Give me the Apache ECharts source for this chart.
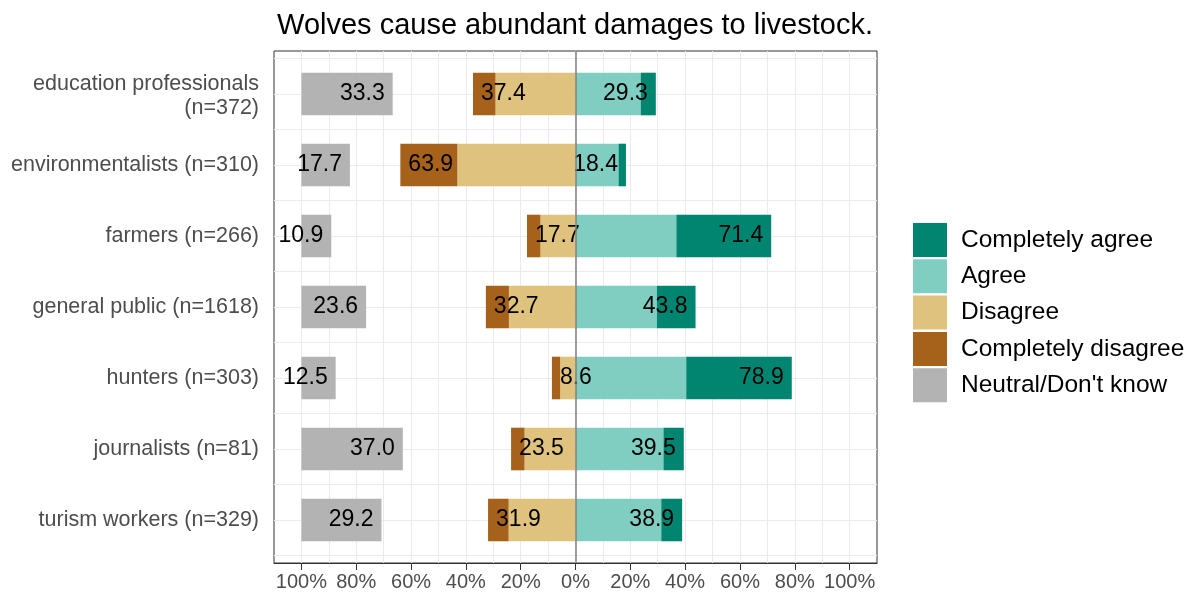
<!DOCTYPE html>
<html>
<head>
<meta charset="utf-8">
<script src="https://cdn.jsdelivr.net/npm/echarts@6/dist/echarts.min.js"></script>
<style>
html,body{margin:0;padding:0;background:#fff;}
#chart{width:1199px;height:595px;}
</style>
</head>
<body>
<div id="chart"></div>
<script>
const titleText = 'Wolves cause abundant damages to livestock.';
const categories = [
  'education professionals\n(n=372)',
  'environmentalists (n=310)',
  'farmers (n=266)',
  'general public (n=1618)',
  'hunters (n=303)',
  'journalists (n=81)',
  'turism workers (n=329)'
];
const completelyAgree    = [5.5, 2.7, 34.6, 14.1, 38.5, 7.4, 7.6];
const agree              = [23.8, 15.7, 36.8, 29.7, 40.4, 32.1, 31.3];
const disagree           = [29.2, 43.1, 12.8, 24.3, 5.6, 18.6, 24.4];
const completelyDisagree = [8.2, 20.8, 4.9, 8.4, 3.0, 4.9, 7.5];
const neutral            = [33.3, 17.7, 10.9, 23.6, 12.5, 37.0, 29.2];
const xTickValues = [-100, -80, -60, -40, -20, 0, 20, 40, 60, 80, 100];
const legendNames = ['Completely agree', 'Agree', 'Disagree', 'Completely disagree', "Neutral/Don't know"];

const FONT = "'Liberation Sans', Arial, sans-serif";
const colors = {
  'Completely agree': '#018571',
  'Agree': '#80CDC1',
  'Disagree': '#DFC27D',
  'Completely disagree': '#A6611A',
  "Neutral/Don't know": '#B3B3B3'
};

const chart = echarts.init(document.getElementById('chart'), null, {renderer: 'canvas'});

const barLabel = (pos, fmt) => ({
  show: true, position: pos, distance: 8, color: '#000', fontSize: 23, fontFamily: FONT, formatter: fmt
});

const common = {
  type: 'bar', xAxisIndex: 1, yAxisIndex: 1, barWidth: '60%', barGap: '-100%', stack: 'likert',
  emphasis: {disabled: true}, silent: true
};

const yLabelStyle = {fontSize: 21.5, color: '#4D4D4D', fontFamily: FONT, align: 'right', lineHeight: 28};

const option = {
  animation: false,
  backgroundColor: '#fff',
  textStyle: {fontFamily: FONT},
  title: {
    text: titleText, left: 570, top: 6, textAlign: 'center',
    textStyle: {fontSize: 29, fontWeight: 'normal', color: '#000', fontFamily: FONT}
  },
  legend: {
    data: legendNames, orient: 'vertical', left: 913, top: 223, padding: 0,
    itemWidth: 34, itemHeight: 34, itemGap: 2.3, icon: 'rect',
    textStyle: {fontSize: 24.5, color: '#000', fontFamily: FONT, padding: [0, 0, 0, 9]},
    selectedMode: false
  },
  grid: [
    {left: 274, right: 322, top: 51, bottom: 32, show: true, borderColor: '#333333', borderWidth: 1, backgroundColor: 'transparent'},
    {left: 274, right: 322, top: 58.5, bottom: 39.5}
  ],
  xAxis: [
    {
      type: 'value', gridIndex: 0, min: -110, max: 110, position: 'bottom',
      axisLine: {show: true, onZero: false, lineStyle: {color: '#333333', width: 1}},
      axisTick: {show: true, length: 7, customValues: xTickValues, lineStyle: {color: '#333333', width: 1}},
      axisLabel: {show: true, customValues: xTickValues, margin: 9, fontSize: 20, color: '#4D4D4D', fontFamily: FONT,
        formatter: v => Math.abs(v) + '%'},
      splitLine: {show: false}
    },
    {type: 'value', gridIndex: 1, min: -110, max: 110, show: false},
    {type: 'value', gridIndex: 1, min: -10, max: 210, show: false},
    {
      type: 'value', gridIndex: 0, min: -110, max: 110, interval: 10, position: 'top',
      axisLine: {show: false}, axisTick: {show: false}, axisLabel: {show: false},
      splitLine: {show: true, showMinLine: false, showMaxLine: false, lineStyle: {color: '#EBEBEB', width: 1}}
    }
  ],
  yAxis: [
    {type: 'value', gridIndex: 0, min: 0.4, max: 7.6, inverse: true, show: false},
    {
      type: 'category', gridIndex: 1, data: categories, inverse: true,
      axisLine: {show: false},
      axisTick: {show: true, alignWithLabel: true, length: 6, lineStyle: {color: '#333333', width: 1}},
      axisLabel: {
        margin: 15, fontSize: 21.5, lineHeight: 28, color: '#4D4D4D', fontFamily: FONT, align: 'right',
        formatter: v => {
          const lines = v.split('\n');
          if (lines.length < 2) return v;
          return '{first|' + lines[0] + '}\n' + lines.slice(1).map(l => '{rest|' + l + '}').join('\n');
        },
        rich: {
          first: Object.assign({}, yLabelStyle, {padding: [8, 0, 0, 0]}),
          rest: Object.assign({}, yLabelStyle)
        }
      },
      splitLine: {show: false}
    },
    {
      type: 'value', gridIndex: 1, min: 0.5, max: 7.5, interval: 0.5, inverse: true, position: 'right',
      axisLine: {show: false}, axisTick: {show: false}, axisLabel: {show: false},
      splitLine: {show: true, lineStyle: {color: '#EBEBEB', width: 1}}
    }
  ],
  series: [
    Object.assign({}, common, {
      name: 'Agree', data: agree, itemStyle: {color: colors['Agree']}
    }),
    Object.assign({}, common, {
      name: 'Disagree', data: disagree.map(v => -v), itemStyle: {color: colors['Disagree']}
    }),
    Object.assign({}, common, {
      name: 'Completely agree', data: completelyAgree, itemStyle: {color: colors['Completely agree']},
      label: barLabel('insideRight', p => (agree[p.dataIndex] + completelyAgree[p.dataIndex]).toFixed(1))
    }),
    Object.assign({}, common, {
      name: 'Completely disagree', data: completelyDisagree.map(v => -v), itemStyle: {color: colors['Completely disagree']},
      label: barLabel('insideLeft', p => (disagree[p.dataIndex] + completelyDisagree[p.dataIndex]).toFixed(1))
    }),
    {
      type: 'bar', name: "Neutral/Don't know", xAxisIndex: 2, yAxisIndex: 1, barWidth: '60%', barGap: '-100%',
      stack: 'neutral', data: neutral, itemStyle: {color: colors["Neutral/Don't know"]}, silent: true,
      emphasis: {disabled: true},
      label: barLabel('insideRight', p => neutral[p.dataIndex].toFixed(1))
    },
    {
      type: 'line', name: 'zero', xAxisIndex: 0, yAxisIndex: 0, data: [], z: 10, silent: true,
      markLine: {
        silent: true, symbol: ['none', 'none'], label: {show: false}, animation: false,
        lineStyle: {color: '#808080', width: 1.5, type: 'solid'},
        data: [{xAxis: 0}]
      }
    }
  ]
};
chart.setOption(option);
</script>
</body>
</html>
